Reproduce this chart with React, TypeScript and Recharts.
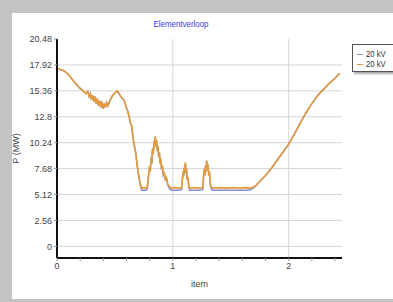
import {
  LineChart,
  Line,
  XAxis,
  YAxis,
  CartesianGrid,
  ReferenceLine,
} from "recharts";

// ─── Data ───────────────────────────────────────────────
const items = [
  0, 0.025, 0.05, 0.075, 0.104, 0.13, 0.16, 0.19, 0.22, 0.25,
  0.265, 0.277, 0.288, 0.298, 0.308, 0.318, 0.328, 0.338, 0.348, 0.358,
  0.368, 0.378, 0.388, 0.398, 0.408, 0.418, 0.428, 0.44, 0.45, 0.465,
  0.48, 0.495, 0.51, 0.52, 0.535, 0.55, 0.565, 0.58, 0.6, 0.612,
  0.623, 0.635, 0.645, 0.655, 0.667, 0.68, 0.692, 0.705, 0.718, 0.73,
  0.75, 0.77, 0.779, 0.79, 0.798, 0.805, 0.812, 0.818, 0.825, 0.831,
  0.837, 0.843, 0.848, 0.854, 0.86, 0.866, 0.872, 0.878, 0.884, 0.89,
  0.896, 0.902, 0.91, 0.918, 0.926, 0.935, 0.945, 0.955, 0.97, 0.987,
  1.02, 1.05, 1.075, 1.082, 1.088, 1.093, 1.098, 1.103, 1.108, 1.113,
  1.118, 1.124, 1.13, 1.137, 1.145, 1.19, 1.225, 1.258, 1.264, 1.27,
  1.276, 1.282, 1.288, 1.292, 1.298, 1.304, 1.31, 1.316, 1.322, 1.33,
  1.34, 1.4, 1.46, 1.52, 1.58, 1.63, 1.67, 1.71, 1.75, 1.8,
  1.85, 1.9, 1.95, 2.0, 2.05, 2.1, 2.15, 2.2, 2.25, 2.3,
  2.35, 2.4, 2.44,
];

// orange series (drawn on top)
const kvOrange = [
  17.5, 17.48, 17.4, 17.2, 16.9, 16.5, 16.1, 15.7, 15.4, 15.1,
  15.3, 14.8, 15.1, 14.5, 14.9, 14.3, 14.8, 14.1, 14.6, 13.9,
  14.4, 13.7, 14.3, 13.6, 14.1, 13.7, 14.2, 13.9, 14.2, 14.6,
  14.9, 15.1, 15.25, 15.35, 15.1, 14.8, 14.6, 14.4, 13.7, 13.3,
  12.8, 12.1, 11.9, 10.8, 10.0, 9.2, 8.0, 7.0, 6.2, 5.75,
  5.8, 5.75, 5.9, 7.0, 7.9, 7.4, 8.8, 8.2, 9.7, 9.1,
  10.4, 9.8, 10.9, 10.0, 10.5, 9.4, 9.9, 8.8, 9.3, 8.2,
  8.7, 7.6, 8.0, 7.0, 7.3, 6.6, 6.8, 6.2, 5.9, 5.75,
  5.8, 5.75, 5.8, 6.6, 7.4, 6.9, 7.8, 7.2, 8.3, 7.4,
  7.7, 6.6, 6.9, 6.0, 5.75, 5.8, 5.75, 5.8, 6.8, 7.6,
  7.0, 8.0, 7.4, 8.5, 7.6, 8.1, 7.0, 7.4, 6.3, 5.9,
  5.75, 5.8, 5.75, 5.8, 5.75, 5.8, 5.75, 5.95, 6.4, 7.0,
  7.7, 8.5, 9.3, 10.1, 11.1, 12.2, 13.2, 14.1, 14.9, 15.5,
  16.1, 16.6, 17.1,
];

// blue series (mostly hidden, shows at the floor)
const kvBlue = [
  17.5, 17.48, 17.4, 17.2, 16.9, 16.5, 16.1, 15.7, 15.4, 15.1,
  15.3, 14.8, 15.1, 14.5, 14.9, 14.3, 14.8, 14.1, 14.6, 13.9,
  14.4, 13.7, 14.3, 13.6, 14.1, 13.7, 14.2, 13.9, 14.2, 14.6,
  14.9, 15.1, 15.25, 15.35, 15.1, 14.8, 14.6, 14.4, 13.7, 13.3,
  12.8, 12.1, 11.9, 10.8, 10.0, 9.2, 8.0, 7.0, 6.1, 5.55,
  5.55, 5.55, 5.7, 6.9, 7.8, 7.4, 8.7, 8.2, 9.6, 9.1,
  10.3, 9.8, 10.8, 10.0, 10.4, 9.4, 9.8, 8.8, 9.2, 8.2,
  8.6, 7.6, 7.9, 7.0, 7.2, 6.6, 6.7, 6.1, 5.7, 5.55,
  5.55, 5.55, 5.6, 6.5, 7.3, 6.9, 7.7, 7.2, 8.2, 7.4,
  7.6, 6.6, 6.8, 5.9, 5.55, 5.55, 5.55, 5.6, 6.7, 7.5,
  7.0, 7.9, 7.4, 8.4, 7.6, 8.0, 7.0, 7.3, 6.2, 5.7,
  5.55, 5.55, 5.55, 5.55, 5.55, 5.55, 5.6, 5.9, 6.4, 7.0,
  7.7, 8.5, 9.3, 10.1, 11.1, 12.2, 13.2, 14.1, 14.9, 15.5,
  16.1, 16.6, 17.1,
];

const yTicks = [0, 2.56, 5.12, 7.68, 10.24, 12.8, 15.36, 17.92, 20.48];
const yGridLines = [0, 2.56, 5.12, 7.68, 10.24, 12.8, 15.36, 17.92];
const xTicks = [0, 0.2, 0.4, 0.6, 0.8, 1, 1.2, 1.4, 1.6, 1.8, 2, 2.2, 2.4];
const xGridLines = [1, 2];
const seriesNames = ["20 kV", "20 kV"];

const data = items.map((item, i) => ({
  item,
  blue: kvBlue[i],
  orange: kvOrange[i],
}));

// ─── Styling ────────────────────────────────────────────
const FONT = "'Liberation Sans', Arial, sans-serif";
const BLUE = "#8a8ccc";
const ORANGE = "#e49b3e";
const GRID = "#d6d6d6";
const LEGEND_COLORS = ["#8f96a4", ORANGE];
const TICK = { fontSize: 9, fill: "#444", fontFamily: FONT };

function ChartLegend() {
  return (
    <div
      style={{
        position: "absolute",
        left: 352,
        top: 44,
        width: 50,
        height: 28,
        background: "#fff",
        border: "1px solid #555",
        boxShadow: "2px 2px 2px rgba(0,0,0,0.35)",
        padding: "4px 0 0 4px",
        boxSizing: "border-box",
        fontFamily: FONT,
        fontSize: 9,
        color: "#333",
        lineHeight: "10px",
      }}
    >
      {seriesNames.map((name, i) => (
        <div key={i} style={{ display: "flex", alignItems: "center", height: 10 }}>
          <span
            style={{
              display: "inline-block",
              width: 6,
              height: 1,
              background: LEGEND_COLORS[i],
              marginRight: 3,
            }}
          />
          <span style={{ display: "inline-block", transform: "scaleX(0.85)", transformOrigin: "left" }}>
            {name}
          </span>
        </div>
      ))}
    </div>
  );
}

export default function App() {
  return (
    <div
      style={{
        position: "absolute",
        left: 0,
        top: 0,
        width: 393,
        height: 302,
        background: "#c4c4c4",
        overflow: "hidden",
      }}
    >
      <div
        style={{
          position: "absolute",
          left: 12,
          top: 13,
          width: 381,
          height: 286,
          background: "#fff",
        }}
      />
      <div
        style={{
          position: "absolute",
          left: 131,
          top: 19,
          width: 100,
          textAlign: "center",
          fontFamily: FONT,
          fontSize: 9,
          color: "#3b3bee",
          transform: "scaleX(0.88)",
        }}
      >
        Elementverloop
      </div>
      <div style={{ position: "absolute", left: 0, top: 0 }}>
        <LineChart
          width={393}
          height={302}
          data={data}
          margin={{ top: 39, right: 51, left: 12, bottom: 14 }}
        >
          <CartesianGrid vertical={false} stroke="none" />
          {yGridLines.map((y) => (
            <ReferenceLine key={`y${y}`} y={y} stroke={GRID} strokeWidth={1} />
          ))}
          {xGridLines.map((x) => (
            <ReferenceLine key={`x${x}`} x={x} stroke={GRID} strokeWidth={1} />
          ))}
          <XAxis
            dataKey="item"
            type="number"
            domain={[0, 2.46]}
            ticks={xTicks}
            interval={0}
            allowDataOverflow
            tickFormatter={(v: number) => (Number.isInteger(v) ? String(v) : "")}
            axisLine={{ stroke: "#111", strokeWidth: 2 }}
            tickLine={{ stroke: "#999" }}
            tickSize={3}
            tick={TICK}
            height={30}
            label={{
              value: "item",
              position: "insideBottom",
              offset: 1,
              ...TICK,
            }}
          />
          <YAxis
            type="number"
            domain={[-1.15, 20.48]}
            ticks={yTicks}
            interval={0}
            allowDataOverflow
            width={45}
            axisLine={{ stroke: "#111", strokeWidth: 2 }}
            tickLine={{ stroke: "#999" }}
            tickSize={3}
            tick={TICK}
            label={{
              value: "P (MW)",
              angle: -90,
              position: "insideLeft",
              offset: 4,
              ...TICK,
              style: { textAnchor: "middle" },
            }}
          />
          <Line
            type="linear"
            dataKey="blue"
            name={seriesNames[0]}
            stroke={BLUE}
            strokeWidth={1.5}
            dot={false}
            isAnimationActive={false}
          />
          <Line
            type="linear"
            dataKey="orange"
            name={seriesNames[1]}
            stroke={ORANGE}
            strokeWidth={1.6}
            dot={false}
            isAnimationActive={false}
          />
        </LineChart>
      </div>
      <ChartLegend />
    </div>
  );
}
